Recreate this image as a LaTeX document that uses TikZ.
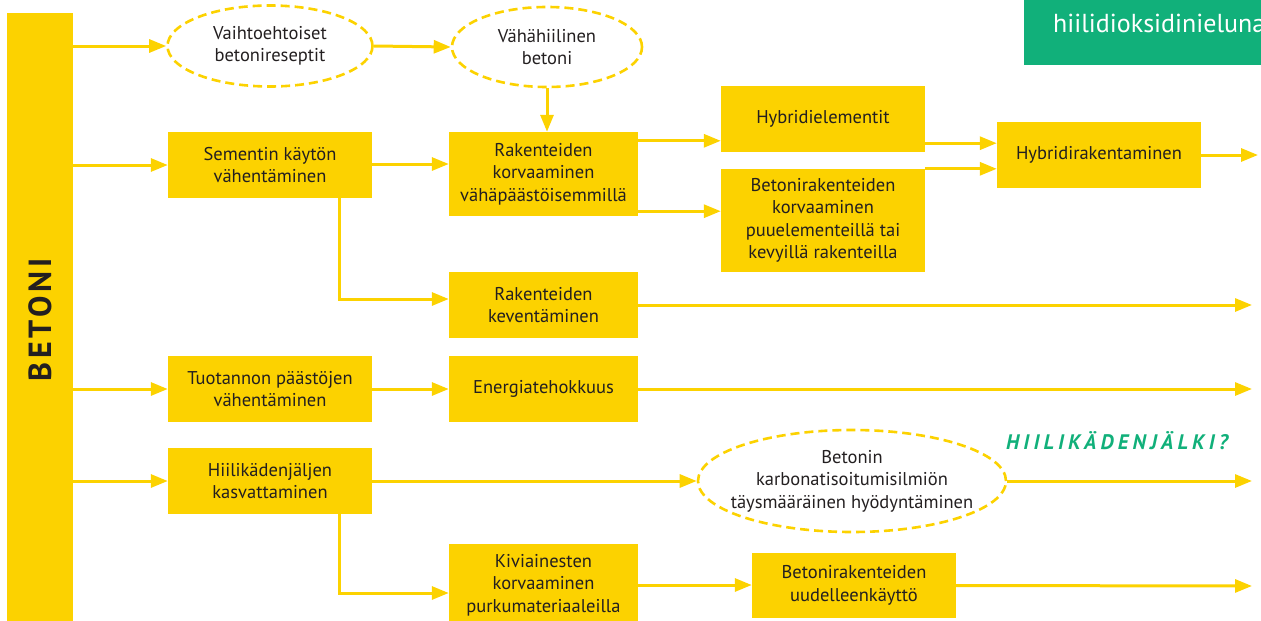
\documentclass[tikz,border=0pt]{standalone}
\usepackage{fontspec}
\setmainfont{PT Sans}
\usetikzlibrary{shapes.geometric,arrows.meta}
\definecolor{betyellow}{RGB}{252,210,0}
\definecolor{betgreen}{RGB}{17,176,122}
\definecolor{bettext}{RGB}{35,31,32}

\begin{document}
\begin{tikzpicture}[x=1pt,y=-1pt,
    box/.style={fill=betyellow,text=bettext,align=center,inner sep=0pt,
      font=\fontsize{18.5}{22.5}\selectfont},
    oval/.style={ellipse,draw=betyellow,line width=2.6pt,dash pattern=on 9pt off 5pt,
      text=bettext,align=center,inner sep=0pt,font=\fontsize{18.5}{22.5}\selectfont},
    arr/.style={draw=betyellow,line width=3pt,-{Triangle[length=17pt,width=13pt]}}]
          \useasboundingbox (0,0) rectangle (1261,621);

          \node[fill=betyellow,minimum width=66pt,minimum height=610pt] (bar) at (40,318) {};
          \node[rotate=90,text=bettext,font=\fontsize{32}{34}\bfseries\addfontfeatures{LetterSpace=12}] (betoni) at (40,320) {BETONI};

          \node[oval,minimum width=205pt,minimum height=81pt] (ell1) at (270,46) {Vaihtoehtoiset\\betonireseptit};
          \node[oval,minimum width=190pt,minimum height=80pt] (ell2) at (547,47) {Vähähiilinen\\betoni};
          \node[oval,inner xsep=-25pt,inner ysep=-10pt,minimum width=308pt,minimum height=102pt] (ell3) at (852,481) {Betonin\\karbonatisoitumisilmiön\\täysmääräinen hyödyntäminen};

          \node[box,minimum width=204pt,minimum height=66pt] (sem) at (270,165) {Sementin käytön\\vähentäminen};
          \node[box,minimum width=204pt,minimum height=66pt] (tuot) at (270,389) {Tuotannon päästöjen\\vähentäminen};
          \node[box,minimum width=204pt,minimum height=66pt] (hkj) at (270,481) {Hiilikädenjäljen\\kasvattaminen};

          \node[box,minimum width=189pt,minimum height=84pt] (rak) at (543.5,174) {Rakenteiden\\korvaaminen\\vähäpäästöisemmillä};
          \node[box,minimum width=189pt,minimum height=66pt] (kev) at (543.5,305) {Rakenteiden\\keventäminen};
          \node[box,minimum width=189pt,minimum height=66pt] (ener) at (543.5,389) {Energiatehokkuus};
          \node[box,minimum width=189pt,minimum height=82pt] (kivi) at (543.5,585) {Kiviainesten\\korvaaminen\\purkumateriaaleilla};

          \node[box,minimum width=204pt,minimum height=66pt] (hyb) at (823,119) {Hybridielementit};
          \node[box,minimum width=204pt,minimum height=103pt] (bkor) at (823,220.5) {Betonirakenteiden\\korvaaminen\\puuelementeillä tai\\kevyillä rakenteilla};
          \node[box,minimum width=204pt,minimum height=66pt] (hybr) at (1099,155) {Hybridirakentaminen};
          \node[box,minimum width=204pt,minimum height=65pt] (buu) at (854,585.5) {Betonirakenteiden\\uudelleenkäyttö};

          \node[text=betgreen,font=\fontsize{21}{24}\bfseries\itshape\addfontfeatures{LetterSpace=20}] (hjalki) at (1117,441) {HIILIKÄDENJÄLKI?};

          \fill[betgreen] (1024,0) rectangle (1270,65);
          \node[anchor=base west,text=white,inner sep=0pt,font=\fontsize{26}{30}\selectfont] (nielu) at (1053,32) {hiilidioksidinieluna};

          \coordinate (hybrout) at (1258,155);
          \coordinate (kevout) at (1252,305);
          \coordinate (enerout) at (1252,389);
          \coordinate (ell3out) at (1252,481);
          \coordinate (buuout) at (1252,586);

          \draw[arr] (bar.east |- ell1.west) -- (ell1.west);
          \draw[arr] (bar.east |- sem.west) -- (sem.west);
          \draw[arr] (bar.east |- tuot.west) -- (tuot.west);
          \draw[arr] (bar.east |- hkj.west) -- (hkj.west);

          \draw[arr] (ell1.east) -- (ell2.west);
          \draw[arr] (ell2.south) -- (ell2.south |- rak.north);
          \draw[arr] ([yshift=1pt]sem.east) -- ([yshift=1pt]sem.east -| rak.west);
          \draw[arr] ([yshift=-9pt]rak.north east) -- ([yshift=-9pt]rak.north east -| hyb.west);
          \draw[arr] ([yshift=5pt]rak.south east) -- ([yshift=5pt]rak.south east -| bkor.west);
          \draw[arr] ([yshift=9pt]hyb.south east) -- ([yshift=9pt]hyb.south east -| hybr.west);
          \draw[arr] (bkor.north east) -- (bkor.north east -| hybr.west);
          \draw[arr] (hybr.east) -- (hybrout);

          \draw[arr] ([xshift=69pt]sem.south) |- ([yshift=6pt]kev.west);
          \draw[arr] (kev.east) -- (kevout);
          \draw[arr] (tuot.east) -- (ener.west);
          \draw[arr] (ener.east) -- (enerout);
          \draw[arr] (hkj.east) -- (ell3.west);
          \draw[arr] (ell3.east) -- (ell3out);
          \draw[arr] ([xshift=69pt]hkj.south) |- ([yshift=-8pt]kivi.west);
          \draw[arr] (kivi.east) -- (kivi.east -| buu.west);
          \draw[arr] (buu.east) -- (buuout);

          \end{tikzpicture}
\end{document}
